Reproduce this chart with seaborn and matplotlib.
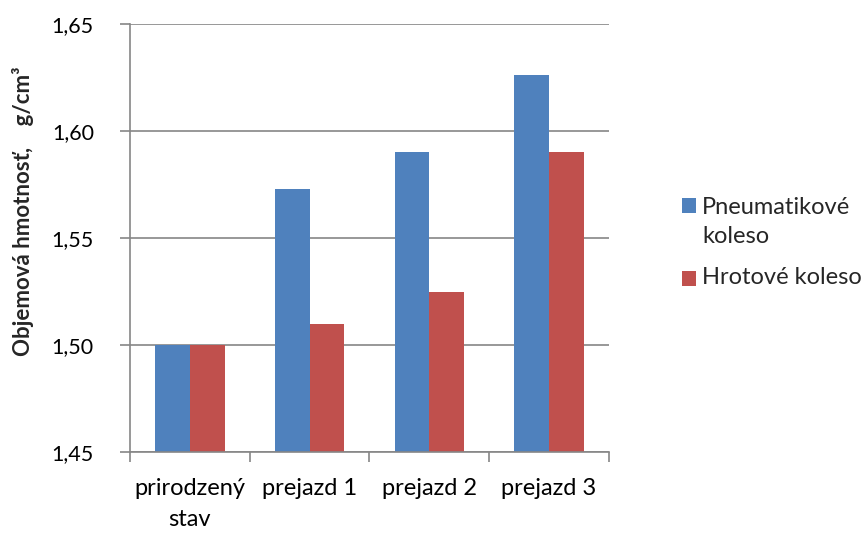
import matplotlib
matplotlib.use("Agg")
import matplotlib.pyplot as plt
import seaborn as sns
import pandas as pd
from matplotlib.patches import Rectangle

# Bulk density measurements per treatment
categories = ["prirodzený\nstav", "prejazd 1", "prejazd 2", "prejazd 3"]
series_names = ["Pneumatikové\nkoleso", "Hrotové koleso"]
pneumatic_wheel = [1.500, 1.573, 1.590, 1.626]
spiked_wheel = [1.500, 1.510, 1.525, 1.590]
y_ticks = [1.45, 1.50, 1.55, 1.60, 1.65]
y_tick_labels = ["1,45", "1,50", "1,55", "1,60", "1,65"]
colors = ["#4F81BD", "#C0504D"]

df = pd.DataFrame({
    "stav": categories * 2,
    "rad": [series_names[0]] * 4 + [series_names[1]] * 4,
    "hodnota": pneumatic_wheel + spiked_wheel,
})

sns.set_theme(style="white")
plt.rcParams["font.family"] = ["Lato", "DejaVu Sans"]
grid_col = "#868686"
fs = 17

W, H = 868, 539
fig = plt.figure(figsize=(W / 100, H / 100), dpi=100)
ax = fig.add_axes([130 / W, 1 - 452 / H, 479 / W, 428 / H])

sns.barplot(data=df, x="stav", y="hodnota", hue="rad", order=categories,
            hue_order=series_names, palette=colors, width=0.58, gap=0,
            saturation=1, linewidth=0, edgecolor="none", ax=ax, legend=False)

ax.set_ylim(1.45, 1.65)
ax.set_xlim(-0.5, 3.5)
ax.set_yticks(y_ticks)
ax.set_yticklabels(y_tick_labels)
ax.yaxis.grid(True, color=grid_col, linewidth=1.2)
ax.set_axisbelow(True)

# category boundaries carry the x tick marks
ax.set_xticks(range(len(categories)))
ax.set_xticklabels(categories, linespacing=1.55)
ax.set_xticks([i - 0.5 for i in range(len(categories) + 1)], minor=True)
ax.tick_params(axis="x", which="major", length=0, pad=19, labelsize=fs,
               colors="black")
ax.tick_params(axis="x", which="minor", length=7, width=1.2, color=grid_col,
               direction="out", bottom=True)
ax.tick_params(axis="y", length=7, width=1.2, color=grid_col, direction="out",
               left=True, labelsize=15.5, labelcolor="black", pad=19)

for side in ["top", "right"]:
    ax.spines[side].set_visible(False)
for side in ["left", "bottom"]:
    ax.spines[side].set_color(grid_col)
    ax.spines[side].set_linewidth(1.2)

ax.set_xlabel("")
ax.set_ylabel("")
fig.text(23 / W, 1 - 211 / H, "Objemová hmotnosť,    g/cm³", rotation=90,
         ha="center", va="center", fontsize=16, fontweight="bold")

# legend: colour swatches with labels
swatch_tops = [198, 271]
label_centres = [222, 278]
for col, top, cy, name in zip(colors, swatch_tops, label_centres, series_names):
    fig.add_artist(Rectangle((682 / W, 1 - (top + 15) / H), 14 / W, 15 / H,
                             transform=fig.transFigure, facecolor=col,
                             edgecolor="none"))
    fig.text(702 / W, 1 - cy / H, name, ha="left", va="center", fontsize=fs,
             linespacing=1.5)

fig.savefig("out.png", dpi=100)
